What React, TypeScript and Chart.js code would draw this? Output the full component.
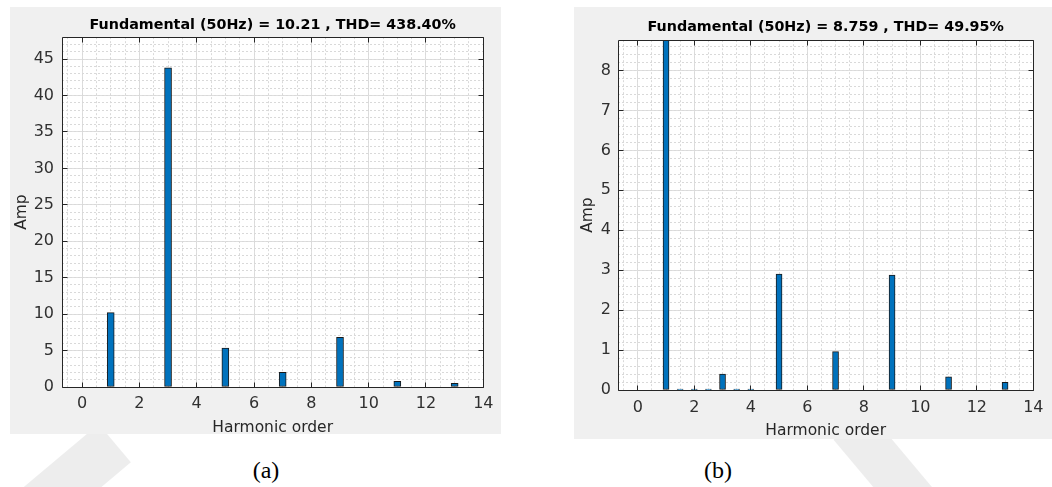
import React, { useEffect, useRef } from "react";
import { Chart, registerables } from "chart.js";

Chart.register(...registerables);

// ---- data ----
const harmonicsA = [1, 3, 5, 7, 9, 11, 13];
const ampA = [10.21, 43.8, 5.35, 2.0, 6.8, 0.77, 0.5];
const harmonicsB = [1, 1.5, 2, 2.5, 3, 3.5, 4, 5, 7, 9, 11, 13];
const ampB = [8.759, 0.02, 0.02, 0.02, 0.4, 0.02, 0.02, 2.9, 0.96, 2.88, 0.33, 0.19];
const titleA = "Fundamental (50Hz) = 10.21 , THD= 438.40%";
const titleB = "Fundamental (50Hz) = 8.759 , THD= 49.95%";
const xLabel = "Harmonic order";
const yLabel = "Amp";
const panelLabels = ["(a)", "(b)"];
const xMin = -0.7;
const xMax = 14;
const xStep = 2;
const xMinorStep = 0.5;
const yMaxA = 48;
const yStepA = 5;
const yMinorA = 1;
const yMaxB = 8.759;
const yStepB = 1;
const yMinorB = 0.2;

const FONT = "'DejaVu Sans', sans-serif";
const BAR_COLOR = "#0072BD";
const MAJOR_GRID = "#dedede";
const MINOR_GRID = "#d9d9d9";
const AXIS_COLOR = "#262626";

const align = (v: number) => Math.round(v - 0.5) + 0.5;

const framePlugin = {
  id: "matlabFrame",
  beforeDraw(chart: any) {
    const { ctx, chartArea: a } = chart;
    ctx.save();
    ctx.fillStyle = "#ffffff";
    ctx.fillRect(a.left, a.top, a.right - a.left, a.bottom - a.top);
    ctx.restore();
  },
  afterDraw(chart: any) {
    const { ctx, chartArea: a, scales } = chart;
    const L = align(a.left);
    const R = align(a.right);
    const T = align(a.top);
    const B = align(a.bottom);
    ctx.save();
    ctx.strokeStyle = AXIS_COLOR;
    ctx.lineWidth = 1;
    ctx.beginPath();
    ctx.rect(L, T, R - L, B - T);
    const tl = 5;
    for (const t of scales.x.ticks) {
      const px = align(scales.x.getPixelForValue(t.value));
      ctx.moveTo(px, B);
      ctx.lineTo(px, B - tl);
      ctx.moveTo(px, T);
      ctx.lineTo(px, T + tl);
    }
    for (const t of scales.y.ticks) {
      const py = align(scales.y.getPixelForValue(t.value));
      ctx.moveTo(L, py);
      ctx.lineTo(L + tl, py);
      ctx.moveTo(R, py);
      ctx.lineTo(R - tl, py);
    }
    ctx.stroke();
    ctx.restore();
  },
};

type Cfg = {
  width: number;
  height: number;
  xs: number[];
  ys: number[];
  title: string;
  yMax: number;
  yStep: number;
  yMinor: number;
  plotLeft: number;
  padRight: number;
  xScaleHeight: number;
  titlePadTop: number;
  titlePadBottom: number;
  yTitlePad: number;
  xTitlePad: number;
  yTickPad: number;
  xTickPad: number;
  barThickness: number;
};

function HarmonicChart({ cfg }: { cfg: Cfg }) {
  const ref = useRef<HTMLCanvasElement>(null);
  useEffect(() => {
    const tickFont = { family: FONT, size: 16 };
    const chart = new Chart(ref.current as HTMLCanvasElement, {
      type: "bar",
      data: {
        datasets: [
          {
            data: cfg.xs.map((x, i) => ({ x, y: cfg.ys[i] })),
            backgroundColor: BAR_COLOR,
            borderColor: "#1a1a1a",
            borderWidth: 1,
            borderSkipped: false,
            barThickness: cfg.barThickness,
            xAxisID: "x",
            yAxisID: "y",
          } as any,
        ],
      },
      options: {
        responsive: false,
        animation: false,
        devicePixelRatio: 1,
        layout: { padding: { left: 0, right: cfg.padRight, top: 0, bottom: 0 } },
        plugins: {
          legend: { display: false },
          tooltip: { enabled: false },
          title: {
            display: true,
            fullSize: false,
            text: cfg.title,
            color: "#000000",
            font: { family: FONT, size: 14.3, weight: "bold" },
            padding: { top: cfg.titlePadTop, bottom: cfg.titlePadBottom },
          },
        },
        scales: {
          x: {
            type: "linear",
            position: "bottom",
            min: xMin,
            max: xMax,
            offset: false,
            ticks: {
              stepSize: xStep,
              includeBounds: false,
              autoSkip: false,
              maxRotation: 0,
              font: tickFont,
              color: "#303030",
              padding: cfg.xTickPad,
            },
            grid: { color: MAJOR_GRID, drawTicks: false, offset: false },
            border: { display: false },
            title: {
              display: true,
              text: xLabel,
              color: AXIS_COLOR,
              font: { family: FONT, size: 15.5 },
              padding: { top: 0, bottom: cfg.xTitlePad },
            },
            afterFit: (s: any) => {
              s.height = cfg.xScaleHeight;
            },
          },
          xMinor: {
            type: "linear",
            position: "bottom",
            min: xMin,
            max: xMax,
            offset: false,
            ticks: { display: false, stepSize: xMinorStep, includeBounds: false, maxTicksLimit: 200 },
            grid: { color: MINOR_GRID, drawTicks: false, offset: false },
            border: { display: false, dash: [2, 2] },
            afterFit: (s: any) => {
              s.height = 0;
            },
          },
          y: {
            type: "linear",
            position: "left",
            min: 0,
            max: cfg.yMax,
            ticks: {
              stepSize: cfg.yStep,
              includeBounds: false,
              font: tickFont,
              color: "#303030",
              padding: cfg.yTickPad,
            },
            grid: { color: MAJOR_GRID, drawTicks: false },
            border: { display: false },
            title: {
              display: true,
              text: yLabel,
              color: AXIS_COLOR,
              font: { family: FONT, size: 15.5 },
              padding: { top: cfg.yTitlePad, bottom: 0 },
            },
            afterFit: (s: any) => {
              s.width = cfg.plotLeft;
            },
          },
          yMinor: {
            type: "linear",
            position: "left",
            min: 0,
            max: cfg.yMax,
            ticks: { display: false, stepSize: cfg.yMinor, includeBounds: false, maxTicksLimit: 200 },
            grid: { color: MINOR_GRID, drawTicks: false },
            border: { display: false, dash: [2, 2] },
            afterFit: (s: any) => {
              s.width = 0;
            },
          },
        },
      } as any,
      plugins: [framePlugin],
    });
    return () => chart.destroy();
  }, []);
  return (
    <canvas
      ref={ref}
      width={cfg.width}
      height={cfg.height}
      style={{ position: "absolute", left: 0, top: 0, width: cfg.width, height: cfg.height }}
    />
  );
}

const cfgA: Cfg = {
  width: 491,
  height: 445,
  xs: harmonicsA,
  ys: ampA,
  title: titleA,
  yMax: yMaxA,
  yStep: yStepA,
  yMinor: yMinorA,
  plotLeft: 52,
  padRight: 14,
  xScaleHeight: 65,
  titlePadTop: 10,
  titlePadBottom: 3,
  yTitlePad: 2.5,
  xTitlePad: 14.5,
  yTickPad: 8,
  xTickPad: 7.5,
  barThickness: 7,
};

const cfgB: Cfg = {
  width: 478,
  height: 450,
  xs: harmonicsB,
  ys: ampB,
  title: titleB,
  yMax: yMaxB,
  yStep: yStepB,
  yMinor: yMinorB,
  plotLeft: 44,
  padRight: 8,
  xScaleHeight: 67,
  titlePadTop: 11.3,
  titlePadBottom: 4.7,
  yTitlePad: 5,
  xTitlePad: 17,
  yTickPad: 7,
  xTickPad: 8.5,
  barThickness: 6,
};

const shade = "rgba(0,0,0,0.07)";

export default function App() {
  return (
    <div
      style={{
        position: "absolute",
        left: 0,
        top: 0,
        width: 1052,
        height: 487,
        background: "#ffffff",
        overflow: "hidden",
      }}
    >
      {/* faint watermark swooshes */}
      <div style={{ position: "absolute", left: 40, top: 420, width: 50, height: 130, background: shade, transform: "rotate(50deg)" }} />
      <div style={{ position: "absolute", left: 870, top: 410, width: 45, height: 130, background: shade, transform: "rotate(-40deg)" }} />

      <div style={{ position: "absolute", left: 10, top: 7, width: 491, height: 427, background: "#f0f0f0" }}>
        <HarmonicChart cfg={cfgA} />
      </div>
      <div style={{ position: "absolute", left: 574, top: 7, width: 478, height: 432, background: "#f0f0f0" }}>
        <HarmonicChart cfg={cfgB} />
      </div>

      <div
        style={{
          position: "absolute",
          left: 216,
          width: 100,
          top: 458,
          textAlign: "center",
          fontFamily: "'Liberation Serif', 'Times New Roman', serif",
          fontSize: 24,
          lineHeight: "24px",
          color: "#000",
        }}
      >
        {panelLabels[0]}
      </div>
      <div
        style={{
          position: "absolute",
          left: 668,
          width: 100,
          top: 458,
          textAlign: "center",
          fontFamily: "'Liberation Serif', 'Times New Roman', serif",
          fontSize: 24,
          lineHeight: "24px",
          color: "#000",
        }}
      >
        {panelLabels[1]}
      </div>
    </div>
  );
}
